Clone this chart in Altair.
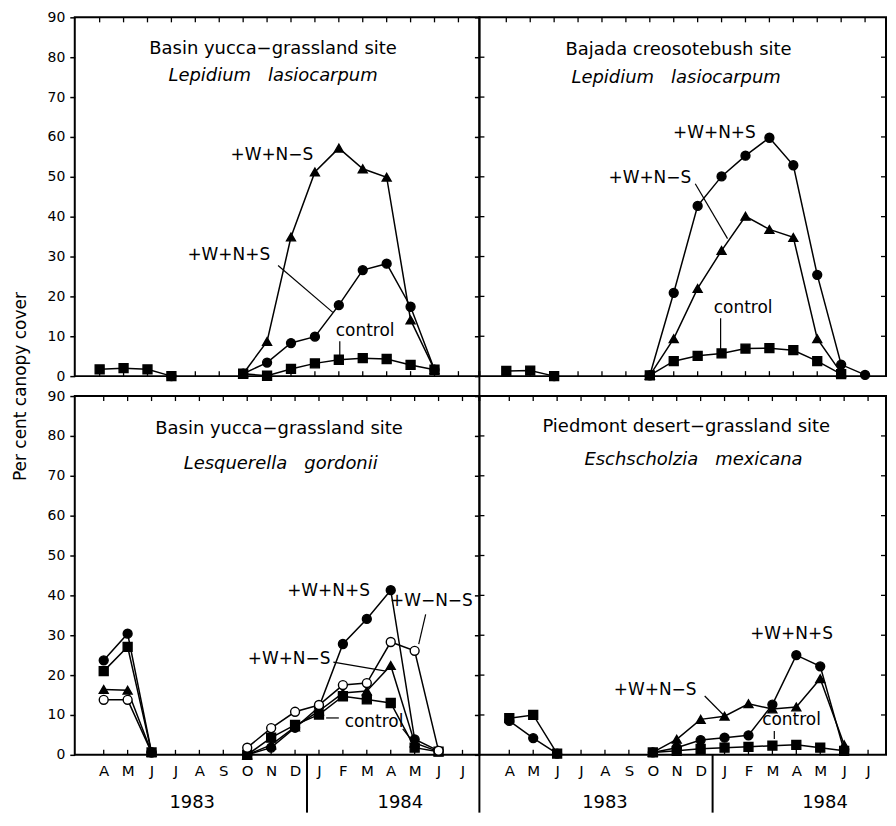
import altair as alt
import pandas as pd

MONTHS = ["A", "M", "J", "J", "A", "S", "O", "N", "D", "J", "F", "M", "A", "M", "J", "J"]
YEARS = ["1983", "1984"]
SERIES = ["+W+N+S", "+W+N−S", "+W−N−S", "control"]
SHAPES = ["circle", "triangle-up", "circle", "square"]
FILLS = ["black", "black", "white", "black"]
Y_TICKS = [0, 10, 20, 30, 40, 50, 60, 70, 80, 90]
FONT = "DejaVu Sans"

# ---------------- Top-left: Basin yucca-grassland, Lepidium lasiocarpum
TL_EARLY_M = [0, 1, 2, 3]
TL_CONTROL_EARLY = [1.7, 2.0, 1.7, 0.0]
TL_WNS_EARLY_M = [3]
TL_WNS_EARLY = [0.0]
TL_LATE_M = [6, 7, 8, 9, 10, 11, 12, 13, 14]
TL_WNS = [0.6, 3.4, 8.3, 9.9, 17.8, 26.6, 28.2, 17.4, 1.6]
TL_WNmS = [0.6, 8.7, 34.9, 51.2, 57.2, 52.0, 49.9, 14.1, 1.6]
TL_CONTROL = [0.6, 0.1, 1.8, 3.2, 4.1, 4.5, 4.3, 2.8, 1.6]

# ---------------- Top-right: Bajada creosotebush, Lepidium lasiocarpum
TR_EARLY_M = [0, 1, 2]
TR_CONTROL_EARLY = [1.3, 1.4, 0.0]
TR_WNS_EARLY_M = [2]
TR_WNS_EARLY = [0.0]
TR_WNS_M = [6, 7, 8, 9, 10, 11, 12, 13, 14, 15]
TR_WNS = [0.2, 20.9, 42.7, 50.1, 55.3, 59.8, 52.9, 25.4, 2.9, 0.3]
TR_LATE_M = [6, 7, 8, 9, 10, 11, 12, 13, 14]
TR_WNmS = [0.2, 9.4, 22.0, 31.5, 40.1, 36.8, 34.8, 9.4, 0.8]
TR_CONTROL = [0.2, 3.75, 5.1, 5.7, 6.9, 7.0, 6.5, 3.75, 0.5]

# ---------------- Bottom-left: Basin yucca-grassland, Lesquerella gordonii
BL_EARLY_M = [0, 1, 2]
BL_WNS_EARLY = [23.7, 30.4, 0.6]
BL_CONTROL_EARLY = [21.0, 27.1, 0.6]
BL_WNmS_EARLY = [16.4, 16.2, 0.6]
BL_WmNmS_EARLY = [13.8, 13.8, 0.6]
BL_LATE_M = [6, 7, 8, 9, 10, 11, 12, 13, 14]
BL_WNS = [0.0, 1.8, 6.8, 12.0, 27.8, 34.1, 41.3, 3.9, 1.0]
BL_CONTROL = [0.0, 4.3, 7.5, 10.1, 14.7, 13.9, 13.0, 1.8, 0.8]
BL_WNmS = [0.0, 2.5, 7.0, 11.0, 15.5, 16.0, 22.4, 3.0, 0.8]
BL_WmNmS = [1.8, 6.7, 10.8, 12.5, 17.5, 18.0, 28.3, 26.1, 1.0]

# ---------------- Bottom-right: Piedmont desert-grassland, Eschscholzia mexicana
BR_EARLY_M = [0, 1, 2]
BR_CONTROL_EARLY = [9.2, 10.0, 0.3]
BR_WNS_EARLY = [8.5, 4.2, 0.3]
BR_LATE_M = [6, 7, 8, 9, 10, 11, 12, 13, 14]
BR_WNS = [0.6, 1.8, 3.7, 4.3, 4.9, 12.6, 25.0, 22.2, 1.0]
BR_WNmS = [0.6, 3.9, 8.9, 9.7, 12.8, 11.5, 12.0, 19.1, 2.5]
BR_CONTROL = [0.6, 1.0, 1.5, 1.8, 2.0, 2.3, 2.5, 1.8, 1.0]


def seg(series, segname, months, values):
    return [dict(series=series, key=series + "|" + segname, month=m, value=v)
            for m, v in zip(months, values)]


LABEL_EXPR = "[" + ",".join("'" + m + "'" for m in MONTHS) + "][datum.value]"


def make_panel(xdom, width, rows, titles, labels, leaders, left, bottom, ytitle=False,
               years=None, right_panel=False, bridge=False):
    df = pd.DataFrame(rows)
    if bottom:
        xaxis = alt.Axis(values=list(range(16)), labelExpr=LABEL_EXPR, labelFontSize=15,
                         labelColor="black", tickSize=0, domain=False, grid=False,
                         labelPadding=9, labelOverlap=False, labelFlush=False, title=None)
    else:
        xaxis = None
    if left:
        yaxis = alt.Axis(values=Y_TICKS, labelFontSize=14, labelColor="black", tickSize=5,
                         tickWidth=1.5, tickColor="black", labelPadding=5, domain=False,
                         grid=False,
                         title=("Per cent canopy cover" if ytitle else None),
                         titleFontSize=17, titleFontWeight="normal", titleColor="black",
                         titleX=-45, titleY=370)
    else:
        yaxis = alt.Axis(values=Y_TICKS, labels=False, tickSize=5, tickWidth=1.5,
                         tickColor="black", domain=False, grid=False, title=None)
    x = alt.X("month:Q", scale=alt.Scale(domain=xdom, nice=False, zero=False), axis=xaxis)
    y = alt.Y("value:Q", scale=alt.Scale(domain=[0, 90], nice=False, zero=False), axis=yaxis)

    layers = []
    tick_rows = []
    for m in range(16):
        if xdom[0] < m < xdom[1]:
            tick_rows.append(dict(month=m, value=0, month2=m, value2=1.25))
            tick_rows.append(dict(month=m, value=90, month2=m, value2=88.75))
    if right_panel:
        for v in Y_TICKS[1:-1]:
            tick_rows.append(dict(month=xdom[1], value=v, month2=xdom[1] - 0.21, value2=v))
            tick_rows.append(dict(month=xdom[0], value=v, month2=xdom[0] + 0.21, value2=v))
    ticks = alt.Chart(pd.DataFrame(tick_rows)).mark_rule(color="black", strokeWidth=1.3).encode(
        x=x, y=y, x2="month2:Q", y2="value2:Q")
    layers.append(ticks)

    lines = alt.Chart(df).mark_line(color="black", strokeWidth=1.5).encode(
        x=x, y=y, detail="key:N", order="month:Q")
    layers.append(lines)

    lead_df = pd.DataFrame([dict(month=a, value=b, month2=c, value2=d) for a, b, c, d in leaders])
    layers.append(alt.Chart(lead_df).mark_rule(color="black", strokeWidth=1.2).encode(
        x=x, y=y, x2="month2:Q", y2="value2:Q"))

    pts = alt.Chart(df).mark_point(filled=True, stroke="black", strokeWidth=1.4, size=80,
                                   opacity=1).encode(
        x=x, y=y,
        shape=alt.Shape("series:N", scale=alt.Scale(domain=SERIES, range=SHAPES), legend=None),
        fill=alt.Fill("series:N", scale=alt.Scale(domain=SERIES, range=FILLS), legend=None))
    layers.append(pts)

    t_df = pd.DataFrame([dict(text=t, month=a, value=b) for t, a, b in labels])
    layers.append(alt.Chart(t_df).mark_text(font=FONT, fontSize=17, color="black", align="center",
                                            baseline="middle").encode(x=x, y=y, text="text:N"))

    (t1, a1, b1), (t2, a2, b2) = titles
    layers.append(alt.Chart(pd.DataFrame([dict(text=t1, month=a1, value=b1)])).mark_text(
        font=FONT, fontSize=18, color="black", align="center", baseline="middle").encode(
        x=x, y=y, text="text:N"))
    layers.append(alt.Chart(pd.DataFrame([dict(text=t2, month=a2, value=b2)])).mark_text(
        font=FONT, fontSize=18, fontStyle="italic", color="black", align="center",
        baseline="middle").encode(x=x, y=y, text="text:N"))

    if years is not None:
        y_df = pd.DataFrame([dict(text=YEARS[0], month=years[0]), dict(text=YEARS[1], month=years[1])])
        layers.append(alt.Chart(y_df).mark_text(font=FONT, fontSize=18, color="black",
                                                align="center", baseline="middle").encode(
            x=x, y=alt.value(408), text="text:N"))
        d_df = pd.DataFrame([dict(month=8.5)])
        layers.append(alt.Chart(d_df).mark_rule(color="black", strokeWidth=2).encode(
            x=x, y=alt.value(360), y2=alt.value(418)))
        if right_panel:
            layers.append(alt.Chart(d_df).mark_rule(color="black", strokeWidth=2).encode(
                x=alt.value(0), y=alt.value(360), y2=alt.value(418)))
    if bridge:
        layers.append(alt.Chart(pd.DataFrame([dict(month=0)])).mark_rule(
            color="black", strokeWidth=2).encode(x=alt.value(0), y=alt.value(355), y2=alt.value(385)))

    return alt.layer(*layers).properties(width=width, height=360)


tl_rows = (seg("control", "e", TL_EARLY_M, TL_CONTROL_EARLY) + seg("+W+N+S", "e", TL_WNS_EARLY_M, TL_WNS_EARLY)
           + seg("+W+N+S", "l", TL_LATE_M, TL_WNS) + seg("+W+N−S", "l", TL_LATE_M, TL_WNmS)
           + seg("control", "l", TL_LATE_M, TL_CONTROL))
tr_rows = (seg("control", "e", TR_EARLY_M, TR_CONTROL_EARLY) + seg("+W+N+S", "e", TR_WNS_EARLY_M, TR_WNS_EARLY)
           + seg("+W+N+S", "l", TR_WNS_M, TR_WNS) + seg("+W+N−S", "l", TR_LATE_M, TR_WNmS)
           + seg("control", "l", TR_LATE_M, TR_CONTROL))
bl_rows = (seg("+W−N−S", "e", BL_EARLY_M, BL_WmNmS_EARLY) + seg("+W+N−S", "e", BL_EARLY_M, BL_WNmS_EARLY)
           + seg("control", "e", BL_EARLY_M, BL_CONTROL_EARLY) + seg("+W+N+S", "e", BL_EARLY_M, BL_WNS_EARLY)
           + seg("+W+N−S", "l", BL_LATE_M, BL_WNmS) + seg("control", "l", BL_LATE_M, BL_CONTROL)
           + seg("+W+N+S", "l", BL_LATE_M, BL_WNS) + seg("+W−N−S", "l", BL_LATE_M, BL_WmNmS))
br_rows = (seg("control", "e", BR_EARLY_M, BR_CONTROL_EARLY) + seg("+W+N+S", "e", BR_EARLY_M, BR_WNS_EARLY)
           + seg("control", "l", BR_LATE_M, BR_CONTROL) + seg("+W+N−S", "l", BR_LATE_M, BR_WNmS)
           + seg("+W+N+S", "l", BR_LATE_M, BR_WNS))

SP = "\u00a0\u00a0\u00a0"
LW = 406
RW = 408
tl = make_panel([-1.04, -1.04 + LW / 24], LW, tl_rows,
                [("Basin yucca−grassland site", 7.25, 82), ("Lepidium" + SP + "lasiocarpum", 7.25, 75.25)],
                [("+W+N−S", 7.2, 55.5), ("+W+N+S", 5.4, 30.5), ("control", 11.1, 11.25)],
                [(7.46, 27.75, 9.75, 16.0), (10.04, 8.75, 10.04, 5.0)],
                left=True, bottom=False, ytitle=True)
tr = make_panel([-1.125, -1.125 + RW / 24], RW, tr_rows,
                [("Bajada creosotebush site", 7.2, 81.75), ("Lepidium" + SP + "lasiocarpum", 7.1, 74.75)],
                [("+W+N+S", 8.7, 61), ("+W+N−S", 6.0, 49.75), ("control", 9.9, 17)],
                [(7.9, 48.25, 9.25, 34.5), (8.96, 14.5, 8.96, 6.0)],
                left=False, bottom=False, right_panel=True, bridge=True)
bl = make_panel([-1.21, -1.21 + LW / 24], LW, bl_rows,
                [("Basin yucca−grassland site", 7.33, 81.75), ("Lesquerella" + SP + "gordonii", 7.4, 73)],
                [("+W+N+S", 9.4, 41), ("+W−N−S", 13.7, 38.5), ("+W+N−S", 7.75, 24), ("control", 11.3, 8.25)],
                [(13.46, 35.25, 13.17, 27.75), (9.6, 23.25, 11.8, 21), (9.3, 9.25, 9.83, 9.25),
                 (12.5, 6.5, 12.8, 4.25)],
                left=True, bottom=True, years=(3.7, 12.4))
br = make_panel([-1.25, -1.25 + RW / 24], RW, br_rows,
                [("Piedmont desert−grassland site", 7.4, 82.25), ("Eschscholzia" + SP + "mexicana", 7.7, 74)],
                [("+W+N+S", 11.8, 30.25), ("+W+N−S", 6.1, 16.25), ("control", 11.8, 8.75)],
                [(8.17, 14.75, 9.0, 9.75), (11.08, 6.0, 11.08, 4.0)],
                left=False, bottom=True, years=(4.0, 13.2), right_panel=True)

chart = alt.concat(tl, tr, bl, br, columns=2, spacing={"row": 20, "column": 0}, bounds="flush").properties(
    padding={"left": 3, "top": 0, "right": 0, "bottom": 0}
).configure(
    font=FONT, background="white"
).configure_view(
    stroke="black", strokeWidth=2
)

chart.save("out.html", embed_options={"renderer": "svg", "actions": False})
